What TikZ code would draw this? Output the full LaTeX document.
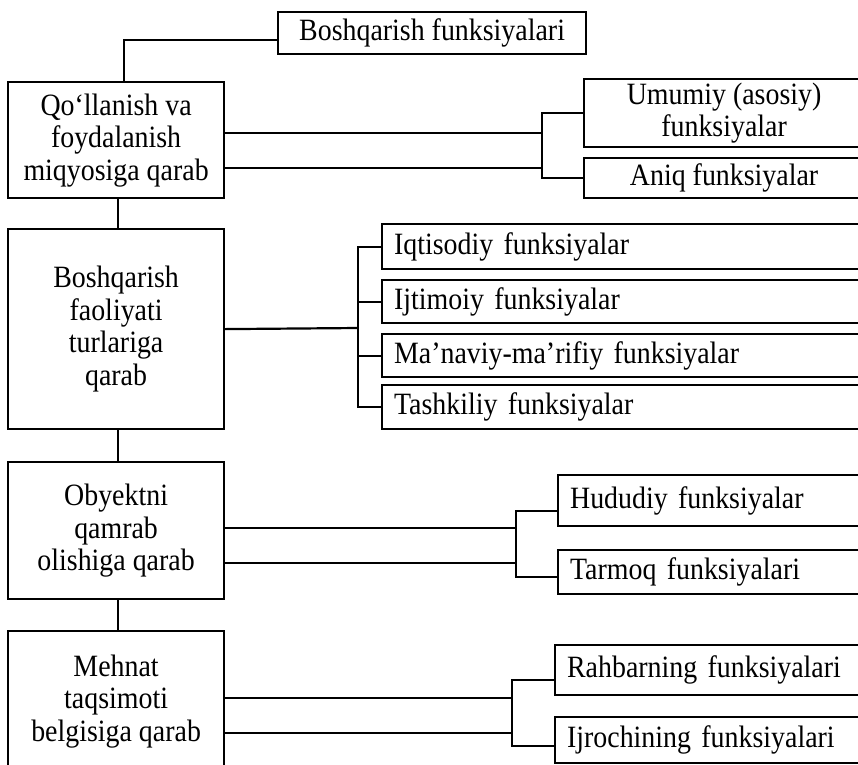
\documentclass[tikz,border=0pt]{standalone}
\usepackage{fontspec}
\setmainfont{Liberation Serif}[FakeStretch=0.9]
\usetikzlibrary{calc}

\begin{document}
\begin{tikzpicture}[x=1pt,y=-1pt,line width=2.2pt,
    box/.style={draw,anchor=north west,inner ysep=0pt,font=\fontsize{31}{32.5}\selectfont},
    kind/.style={box,minimum width=216pt,align=center},
    func/.style={box,text width=470pt,inner xsep=12pt,align=left}]
        \clip (0,0) rectangle (858,764);

        % 1. Root block
        \node (root) at (277,11) [box,minimum width=308pt,minimum height=42pt] {Boshqarish funksiyalari};

        % 2. Left column (classification criteria)
        \node (k1) at (7,81) [kind,minimum height=116pt] {Qo‘llanish va\\foydalanish\\miqyosiga qarab};
        \node (k2) at (7,228) [kind,minimum height=200pt] {Boshqarish\\faoliyati\\turlariga\\qarab};
        \node (k3) at (7,461) [kind,minimum height=137pt] {Obyektni\\qamrab\\olishiga qarab};
        \node (k4) at (7,630) [kind,minimum height=140pt] {Mehnat\\taqsimoti\\belgisiga qarab};

        % Root down to first criterion, then the trunk
        \draw ([yshift=-7pt]root.west) -| ([xshift=8pt]k1.north);
        \draw ([xshift=2pt]k1.south) -- ([xshift=2pt]k2.north);
        \draw ([xshift=2pt]k2.south) -- ([xshift=2pt]k3.north);
        \draw ([xshift=2pt]k3.south) -- ([xshift=2pt]k4.north);

        % 3. First group
        \node (um) at (583,78) [box,minimum width=280pt,minimum height=68pt,align=center] {Umumiy (asosiy)\\funksiyalar};
        \node (an) at (583,157) [box,minimum width=280pt,minimum height=40pt] {Aniq funksiyalar};
        \coordinate (s1) at (542,145);
        \draw (um.west) -| (s1) |- (an.west);
        \draw ([yshift=7pt]k1.east) -- ([yshift=7pt]k1.east -| s1);
        \draw ([yshift=-28pt]k1.east) -- ([yshift=-28pt]k1.east -| s1);

        % 4. Second group
        \node (iq) at (381,223) [func,minimum height=45pt] {Iqtisodiy funksiyalar};
        \node (ij) at (381,279) [func,minimum height=43pt] {Ijtimoiy funksiyalar};
        \node (ma) at (381,333) [func,minimum height=43pt] {Ma’naviy-ma’rifiy funksiyalar};
        \node (ta) at (381,384) [func,minimum height=44pt] {Tashkiliy funksiyalar};
        \coordinate (s2) at (358,328);
        \draw (k2.east) -- (s2);
        \draw (iq.west) -| (s2) |- (ta.west);
        \draw (ij.west) -- (ij.west -| s2);
        \draw (ma.west) -- (ma.west -| s2);

        % 5. Third group
        \node (hu) at (557,474) [func,minimum height=51pt] {Hududiy funksiyalar};
        \node (tr) at (557,549) [func,minimum height=44pt] {Tarmoq funksiyalari};
        \coordinate (s3) at (516,540);
        \draw ([yshift=-10pt]hu.west) -| (s3) |- ([yshift=-5pt]tr.west);
        \draw ([yshift=2.5pt]k3.east) -- ([yshift=2.5pt]k3.east -| s3);
        \draw ([yshift=-32.5pt]k3.east) -- ([yshift=-32.5pt]k3.east -| s3);

        % 6. Fourth group
        \node (ra) at (554,644) [func,minimum height=50pt] {Rahbarning funksiyalari};
        \node (ir) at (554,716) [func,minimum height=46pt] {Ijrochining funksiyalari};
        \coordinate (s4) at (512,710);
        \draw ([yshift=-10pt]ra.west) -| (s4) |- ([yshift=-6pt]ir.west);
        \draw ([yshift=3pt]k4.east) -- ([yshift=3pt]k4.east -| s4);
        \draw ([yshift=-31.5pt]k4.east) -- ([yshift=-31.5pt]k4.east -| s4);

    \end{tikzpicture}
\end{document}
